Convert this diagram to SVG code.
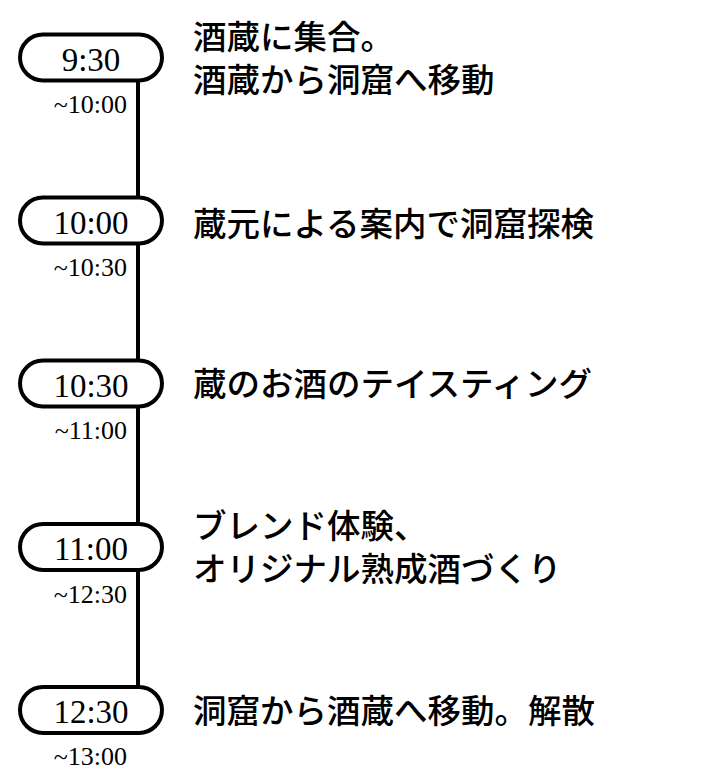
<svg xmlns="http://www.w3.org/2000/svg" width="712" height="779" viewBox="0 0 712 779">
<style>
.pill{fill:#fff;stroke:#000;stroke-width:4}
.conn{stroke:#000;stroke-width:4;fill:none}
.t{font-family:"Liberation Serif","Times New Roman",serif;font-size:33px;fill:#000;text-anchor:middle}
.s{font-family:"Liberation Serif","Times New Roman",serif;font-size:26px;fill:#000;text-anchor:end}
.d{font-family:"Noto Sans CJK JP Medium","Noto Sans CJK JP","Noto Sans",sans-serif;font-size:33.5px;font-weight:500;fill:#000}
</style>
<rect width="712" height="779" fill="#fff"/>
<g id="connectors">
<line class="conn" x1="138" y1="80" x2="138" y2="198"/>
<line class="conn" x1="138" y1="243" x2="138" y2="361"/>
<line class="conn" x1="138" y1="406" x2="138" y2="525"/>
<line class="conn" x1="138" y1="569" x2="138" y2="688"/>
</g>
<g id="n1">
<rect class="pill" x="20" y="34.5" width="142" height="46" rx="23"/>
<text class="t" x="91" y="70.5">9:30</text>
<text class="s" x="127" y="113">~10:00</text>
<text class="d" x="193" y="48.5">酒蔵に集合。<tspan x="193" y="91.5">酒蔵から洞窟へ移動</tspan></text>
</g>
<g id="n2">
<rect class="pill" x="20" y="197.5" width="142" height="46" rx="23"/>
<text class="t" x="91" y="233.5">10:00</text>
<text class="s" x="127" y="276">~10:30</text>
<text class="d" x="193" y="236">蔵元による案内で洞窟探検</text>
</g>
<g id="n3">
<rect class="pill" x="20" y="360.5" width="142" height="46" rx="23"/>
<text class="t" x="91" y="396.5">10:30</text>
<text class="s" x="127" y="439">~11:00</text>
<text class="d" x="193" y="396">蔵のお酒のテイスティング</text>
</g>
<g id="n4">
<rect class="pill" x="20" y="524" width="142" height="46" rx="23"/>
<text class="t" x="91" y="560">11:00</text>
<text class="s" x="127" y="602.5">~12:30</text>
<text class="d" x="193" y="538">ブレンド体験、<tspan x="193" y="581">オリジナル熟成酒づくり</tspan></text>
</g>
<g id="n5">
<rect class="pill" x="20" y="687" width="142" height="46" rx="23"/>
<text class="t" x="91" y="723">12:30</text>
<text class="s" x="127" y="765">~13:00</text>
<text class="d" x="193" y="722.5">洞窟から酒蔵へ移動。解散</text>
</g>
</svg>
